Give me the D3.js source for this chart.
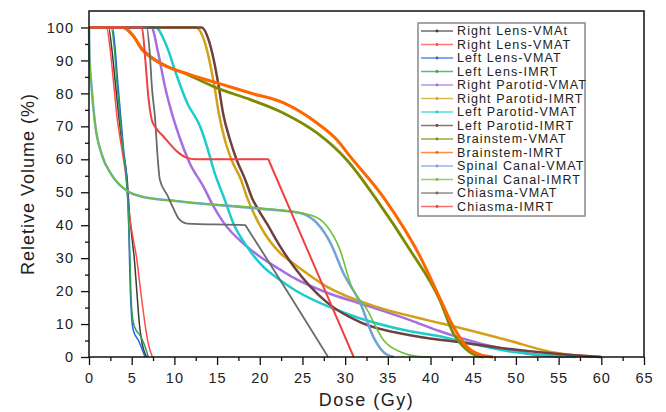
<!DOCTYPE html>
<html>
<head>
<meta charset="utf-8">
<script src="https://cdn.jsdelivr.net/npm/d3@7"></script>
<style>
  body { margin: 0; background: #fff; }
  svg text { font-family: Arial, "Liberation Sans", sans-serif; fill: #222; }
</style>
</head>
<body>
<div id="chart"></div>
<script>
// dose-volume curves, [dose (Gy), relative volume (%)]
const rightLensVMAt = [[0,100],[2.3,100],[2.65,94],[3.05,84],[3.45,74],[3.95,63],[4.5,53],[4.7,45],[4.95,38],[5.3,30],[5.6,20],[5.9,10],[6.16,5],[6.75,0]];
const rightLensVMAT = [[0,100],[2.05,100],[2.45,94],[2.85,84],[3.25,73.5],[3.85,63],[4.4,53],[4.65,45],[5.1,37],[5.58,30],[6.05,20],[6.56,10],[6.87,5],[7.42,0]];
const leftLensVMAT = [[0,100],[2.75,100],[3.05,94],[3.35,84],[3.7,73.5],[4.05,63],[4.45,53],[4.6,45],[4.74,30],[4.84,20],[5.0,12],[5.2,8],[5.8,5],[6.56,0]];
const leftLensIMRT = [[0,100],[2.6,100],[2.95,94],[3.25,84],[3.6,73.5],[4.0,63],[4.4,53],[4.58,45],[4.8,30],[4.9,20],[5.1,12],[5.35,9],[6.0,6.5],[6.44,4],[6.95,0]];
const rightParotidVMAT = [[0,100],[7.3,100],[8.1,92.3],[8.9,82],[9.7,74],[10.7,66],[11.8,58.8],[13.4,51.7],[14.6,45.6],[15.7,41],[18.5,33.5],[20,30.5],[22.4,26.5],[24,24],[27.9,19.5],[31.8,16.2],[37.6,11.2],[41.1,7.8],[43.1,6.1],[49,2.2],[52.9,0.5],[55.6,0]];
const rightParotidIMRT = [[0,100],[12.5,100],[13.5,96],[14.1,90],[14.7,82],[15.2,74],[15.9,66],[16.7,59.8],[17.8,53.8],[18.5,48.5],[20,40],[22.4,31.5],[24,28.3],[27.9,21.3],[33.7,15.2],[39.6,11.2],[43.5,8.8],[49,5.1],[54.8,1.2],[57,0.5],[60,0]];
const leftParotidVMAT = [[0,100],[7.8,100],[9.1,94.3],[10.3,85.2],[11.5,77.1],[13,70],[13.8,64],[14.6,56.8],[15.9,47.7],[16.9,40.6],[18.5,33.5],[20.4,27.4],[22.4,23.3],[24,20.5],[29.8,13.5],[37.6,7.8],[41.1,6.3],[43.1,5.1],[49,1.8],[54.8,0.3],[57,0]];
const leftParotidIMRT = [[0,100],[13.2,100],[14,96.3],[14.6,90.3],[15.2,82],[15.7,74],[16.5,66],[17.3,59.8],[18.3,53.8],[19.1,48.2],[20,44],[20.8,40.6],[22.4,33.5],[24,27.4],[27.9,16.5],[31.8,10.5],[37.6,6.6],[43.1,4.6],[49,2.5],[56.8,0.5],[60,0]];
const brainstemVMAT = [[0,100],[4,100],[5.2,97.4],[6.2,93.5],[7.3,91],[9.1,88.2],[11.1,86.2],[15,81.6],[18.9,78.1],[22.8,74],[26.7,68],[30.2,59.8],[33.7,47.7],[37.6,32.5],[41.1,17.2],[42.7,7],[44.1,2.5],[45.5,0.3],[46.2,0]];
const brainstemIMRT = [[0,100],[4,100],[5.2,97.4],[6.2,93.3],[7.3,90.8],[9.1,88.2],[11.8,85.7],[15,83.2],[18.9,80.1],[22.8,77.1],[26.7,71],[29,66],[30.6,60.8],[34.7,47.7],[38.8,30.4],[41.1,17.8],[42.7,9.1],[44.3,3],[45.8,0.7],[47.3,0]];
const spinalCanalVMAT = [[0,100],[0.05,92],[0.3,82],[0.7,71],[1.5,61.4],[2.65,55.3],[4.6,50.2],[6,48.8],[10.7,47.2],[20,45],[24.7,43.7],[26.7,40.6],[28.3,34.5],[29.8,25.4],[31.8,16.2],[33.3,6.1],[34.5,1.5],[35.7,0]];
const spinalCanalIMRT = [[0,100],[0.05,92],[0.3,82],[0.7,71],[1.5,61.4],[2.65,55.3],[4.6,50.2],[6,48.8],[10.7,47.2],[20,45.2],[25.9,43.1],[27.9,39.6],[29.4,32.5],[30.6,22.4],[32.6,14.2],[34.5,5.1],[36.5,1.5],[38.4,0.2],[40,0]];
const chiasmaVMAT = [[0,100],[6.75,100],[7.15,91],[7.35,82.5],[7.75,72],[8.0,62],[8.3,53.8],[9.2,49],[9.9,45],[10.5,42],[11.5,40.5],[18.3,40],[18.5,39.2],[28,0]];
const chiasmaIMRT = [[0,100],[6.2,100],[6.6,90],[6.95,79],[7.35,72],[7.7,70],[8.7,67],[10.3,62.4],[11.4,60.5],[12.5,60],[21,60],[21.2,58.8],[31,0]];

const seriesNames = ["Right Lens-VMAt","Right Lens-VMAT","Left Lens-VMAT","Left Lens-IMRT","Right Parotid-VMAT","Right Parotid-IMRT","Left Parotid-VMAT","Left Parotid-IMRT","Brainstem-VMAT","Brainstem-IMRT","Spinal Canal-VMAT","Spinal Canal-IMRT","Chiasma-VMAT","Chiasma-IMRT"];
const seriesData = [rightLensVMAt,rightLensVMAT,leftLensVMAT,leftLensIMRT,rightParotidVMAT,rightParotidIMRT,leftParotidVMAT,leftParotidIMRT,brainstemVMAT,brainstemIMRT,spinalCanalVMAT,spinalCanalIMRT,chiasmaVMAT,chiasmaIMRT];
const colors = ["#3c3c3c","#ff4a4a","#2563e0","#2e9e5a","#a66ee0","#d4a017","#1ccccc","#6e4040","#7f8a00","#ff6600","#74a2d8","#6cc23a","#6a6a6a","#f04040"];
const widths = [1.5,1.5,1.5,1.5,2.5,2.5,2.5,2.5,2.8,3,2.5,1.6,1.8,2];

const xTicks = d3.range(0, 66, 5);
const yTicks = d3.range(0, 101, 10);

const width = 666, height = 412;
const margin = {top: 11, right: 22, bottom: 55, left: 89};

const svg = d3.select("#chart").append("svg")
  .attr("width", width)
  .attr("height", height);

const x = d3.scaleLinear().domain([0, 65]).range([margin.left, width - margin.right]);
const y = d3.scaleLinear().domain([0, 105]).range([height - margin.bottom, margin.top]);

// minor ticks first
svg.append("g")
  .attr("transform", `translate(0,${height - margin.bottom})`)
  .call(d3.axisBottom(x).tickValues(d3.range(2.5, 65, 5)).tickSize(4).tickFormat(""))
  .call(g => g.select(".domain").remove());
svg.append("g")
  .attr("transform", `translate(${margin.left},0)`)
  .call(d3.axisLeft(y).tickValues(d3.range(5, 100, 10)).tickSize(4).tickFormat(""))
  .call(g => g.select(".domain").remove());

// major ticks
svg.append("g")
  .attr("transform", `translate(0,${height - margin.bottom})`)
  .call(d3.axisBottom(x).tickValues(xTicks).tickSize(8).tickPadding(8))
  .call(g => g.select(".domain").remove())
  .selectAll("text").attr("font-size", 14.5).attr("letter-spacing", 1);
svg.append("g")
  .attr("transform", `translate(${margin.left},0)`)
  .call(d3.axisLeft(y).tickValues(yTicks).tickSize(8).tickPadding(7))
  .call(g => g.select(".domain").remove())
  .selectAll("text").attr("font-size", 14.5).attr("letter-spacing", 1);

svg.selectAll(".tick line").attr("stroke", "#111").attr("stroke-width", 1.3);

// curves
const line = d3.line()
  .x(d => x(d[0]))
  .y(d => y(d[1]))
  .curve(d3.curveMonotoneX);

svg.append("g")
  .selectAll("path")
  .data(seriesData)
  .join("path")
    .attr("d", line)
    .attr("fill", "none")
    .attr("stroke", (d, i) => colors[i])
    .attr("stroke-width", (d, i) => widths[i])
    .attr("stroke-linejoin", "round");

// frame
svg.append("rect")
  .attr("x", margin.left)
  .attr("y", margin.top)
  .attr("width", width - margin.left - margin.right)
  .attr("height", height - margin.top - margin.bottom)
  .attr("fill", "none")
  .attr("stroke", "#111")
  .attr("stroke-width", 1.5);

// axis titles
svg.append("text")
  .attr("x", (margin.left + width - margin.right) / 2)
  .attr("y", 406)
  .attr("text-anchor", "middle")
  .attr("font-size", 18)
  .attr("letter-spacing", 1.5)
  .text("Dose (Gy)");

svg.append("text")
  .attr("transform", `translate(28,${(margin.top + height - margin.bottom) / 2}) rotate(-90)`)
  .attr("text-anchor", "middle")
  .attr("dy", "0.35em")
  .attr("font-size", 18)
  .attr("letter-spacing", 1)
  .text("Reletive Volume (%)");

// legend
const legend = svg.append("g").attr("transform", "translate(418,23)");
legend.append("rect")
  .attr("width", 167)
  .attr("height", 193)
  .attr("fill", "#fff")
  .attr("stroke", "#888")
  .attr("stroke-width", 1.5);

const rows = legend.selectAll(".row")
  .data(seriesNames)
  .join("g")
    .attr("class", "row")
    .attr("transform", (d, i) => `translate(0,${8 + i * 13.5})`);

rows.append("line")
  .attr("x1", 3).attr("x2", 35)
  .attr("stroke", (d, i) => colors[i])
  .attr("stroke-opacity", 0.75)
  .attr("stroke-width", 1.5);
rows.append("circle")
  .attr("cx", 19).attr("r", 1.4)
  .attr("fill", (d, i) => colors[i]);
rows.append("text")
  .attr("x", 39)
  .attr("dy", "0.35em")
  .attr("font-size", 12.5)
  .attr("letter-spacing", 1.1)
  .text(d => d);
</script>
</body>
</html>
